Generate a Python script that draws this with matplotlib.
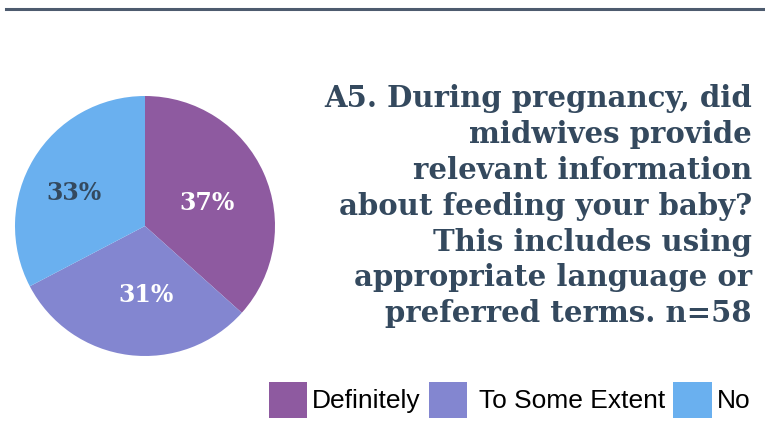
import numpy as np
import matplotlib.pyplot as plt
from matplotlib.lines import Line2D

# datos
categorias = ['Definitely', ' To Some Extent', 'No']
valores = [37, 31, 33]
etiquetas = ['37%', '31%', '33%']
colores = ['#8e5aa0', '#8386d0', '#6ab0ef']
color_texto = ['white', 'white', '#34495e']
titulo = ('A5. During pregnancy, did\nmidwives provide\nrelevant information\n'
          'about feeding your baby?\nThis includes using\nappropriate language or\n'
          'preferred terms. n=58')

W, H = 765, 448
fig = plt.figure(figsize=(W / 100, H / 100), dpi=100)

# linea superior
fig.add_artist(Line2D([6 / W, 1], [1 - 9 / H, 1 - 9 / H], color='#4d5b6e', lw=2.2))

# pastel
ax = fig.add_axes([15 / W, 92 / H, 260 / W, 260 / H])
cunas, _ = ax.pie(valores, colors=colores, startangle=90, counterclock=False,
                  wedgeprops=dict(linewidth=0))
ax.set_aspect('equal')
ax.set_xlim(-1, 1)
ax.set_ylim(-1, 1)

# etiquetas dentro de cada porcion (radio y ajuste de angulo)
total = sum(valores)
ang0 = 90
radios = [0.51, 0.53, 0.6]
ajustes = [-4, 8, 6]
for v, txt, c, r, d in zip(valores, etiquetas, color_texto, radios, ajustes):
    frac = v / total * 360
    mid = np.deg2rad(ang0 - frac / 2 + d)
    ax.text(r * np.cos(mid), r * np.sin(mid), txt, ha='center', va='center',
            color=c, fontsize=17, fontweight='bold', family='DejaVu Serif')
    ang0 -= frac

# titulo
fig.text(752 / W, 1 - 84 / H, titulo, ha='right', va='top', fontsize=21,
         fontweight='bold', family='DejaVu Serif', color='#34495e', linespacing=1.3)

# leyenda
fig.legend(cunas, categorias, loc='lower right', bbox_to_anchor=(0.995, 0.043),
           ncol=3, frameon=False, prop={'family': 'Liberation Sans', 'size': 19},
           handlelength=1.45, handleheight=1.75, handletextpad=0.2, columnspacing=0.3,
           borderaxespad=0)

fig.savefig('out.png', dpi=100)
